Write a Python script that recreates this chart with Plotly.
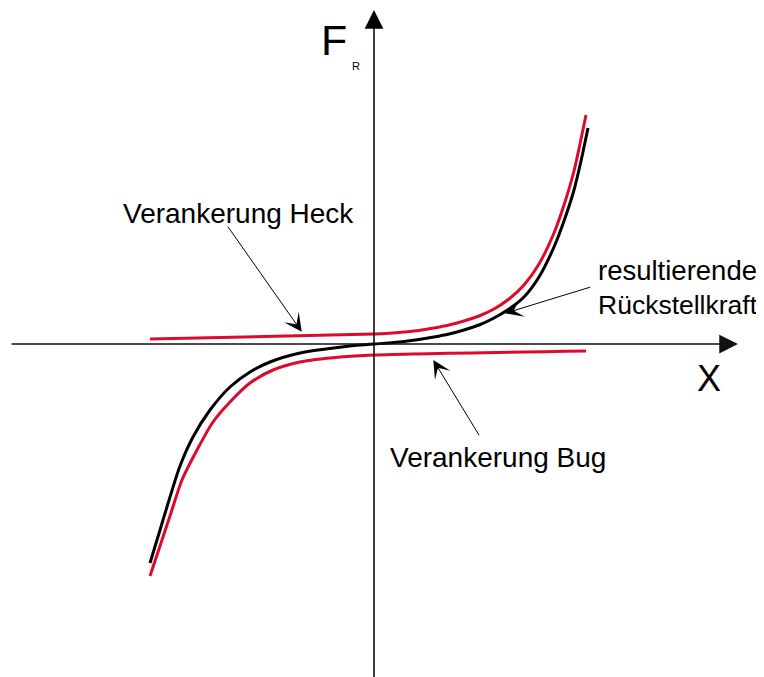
import plotly.graph_objects as go

# Data (x to the right, F_R upward; origin at the axis crossing)
black_x = [-224, -214, -204, -194, -181, -164, -144, -124, -104, -74, -44, -20, 0,
           15, 30, 45, 60, 75, 90, 105, 120, 135, 150, 165, 180, 190, 200, 207, 214]
black_y = [-219, -186, -153, -122, -93, -66, -43, -28, -18, -9, -4.5, -1.5, 0,
           1, 2.5, 4.5, 7, 10, 14, 19, 26, 35, 47, 67, 97, 123, 154, 183, 216]

heck_x = [-224, 0, 15, 30, 45, 60, 75, 90, 105, 120, 135, 150, 165, 180, 190, 200, 206, 212]
heck_y = [5, 10, 10.8, 12, 13.5, 16, 19, 23, 28, 35, 45, 59, 80, 111, 139, 173, 200, 229]

bug_x = [-224, -214, -204, -192, -177, -161, -144, -124, -101, -74, -34, 0, 212]
bug_y = [-232, -202, -172, -136, -106, -78, -58, -39, -26, -18, -13, -11, -7]

labels = ["Verankerung Heck", "resultierende", "Rückstellkraft", "Verankerung Bug"]
axis_labels = ["F", "R", "X"]

RED = "#dc0a2d"
FONT = "Liberation Sans, Arial, sans-serif"

fig = go.Figure()
fig.add_trace(go.Scatter(x=heck_x, y=heck_y, mode="lines",
                         line=dict(color=RED, width=3, shape="spline", smoothing=0.8)))
fig.add_trace(go.Scatter(x=bug_x, y=bug_y, mode="lines",
                         line=dict(color=RED, width=3, shape="spline", smoothing=0.8)))
fig.add_trace(go.Scatter(x=black_x, y=black_y, mode="lines",
                         line=dict(color="black", width=3, shape="spline", smoothing=0.8)))

ann = []
# axes with arrows
ann.append(dict(x=364, y=0, ax=-364, ay=0, xref="x", yref="y", axref="x", ayref="y",
                text="", showarrow=True, arrowhead=2, arrowsize=2.5, arrowwidth=1.5,
                arrowcolor="#111", standoff=0))
ann.append(dict(x=0, y=334, ax=0, ay=-340, xref="x", yref="y", axref="x", ayref="y",
                text="", showarrow=True, arrowhead=2, arrowsize=2.5, arrowwidth=1.5,
                arrowcolor="black", standoff=0))
# pointer arrows
ann.append(dict(x=-72.3, y=12.3, ax=-147.3, ay=119, xref="x", yref="y", axref="x", ayref="y",
                text="", showarrow=True, arrowhead=3, arrowsize=3, arrowwidth=1,
                arrowcolor="black", standoff=0))
ann.append(dict(x=131, y=30.7, ax=217.7, ay=57.3, xref="x", yref="y", axref="x", ayref="y",
                text="", showarrow=True, arrowhead=3, arrowsize=3, arrowwidth=1,
                arrowcolor="black", standoff=0))
ann.append(dict(x=59.3, y=-16, ax=106, ay=-92.7, xref="x", yref="y", axref="x", ayref="y",
                text="", showarrow=True, arrowhead=3, arrowsize=3, arrowwidth=1,
                arrowcolor="black", standoff=0))

def label(text, x, y, size, anchor="left"):
    return dict(x=x, y=y, xref="x", yref="y", text=text, showarrow=False,
                xanchor=anchor, yanchor="middle",
                font=dict(family=FONT, size=size, color="black"))

ann.append(label(labels[0], -253.3, 131, 28))
ann.append(label(labels[1], 222, 74, 27.5))
ann.append(label(labels[2], 222, 39, 26.5))
ann.append(label(labels[3], 14, -113.5, 28))
ann.append(label(axis_labels[0], -25, 304.5, 43, anchor="right"))
ann.append(label(axis_labels[1], -24, 278, 11))
ann.append(label(axis_labels[2], 321, -34, 36))

# the page body has an 8px margin: shrink the figure and shift the ranges accordingly
fig.update_layout(
    width=756, height=669,
    margin=dict(l=0, r=0, t=0, b=0),
    paper_bgcolor="white", plot_bgcolor="white",
    showlegend=False,
    xaxis=dict(range=[-366, 390], visible=False, fixedrange=True),
    yaxis=dict(range=[-333, 336], visible=False, fixedrange=True),
    annotations=ann,
)

fig.write_html("out.html")
